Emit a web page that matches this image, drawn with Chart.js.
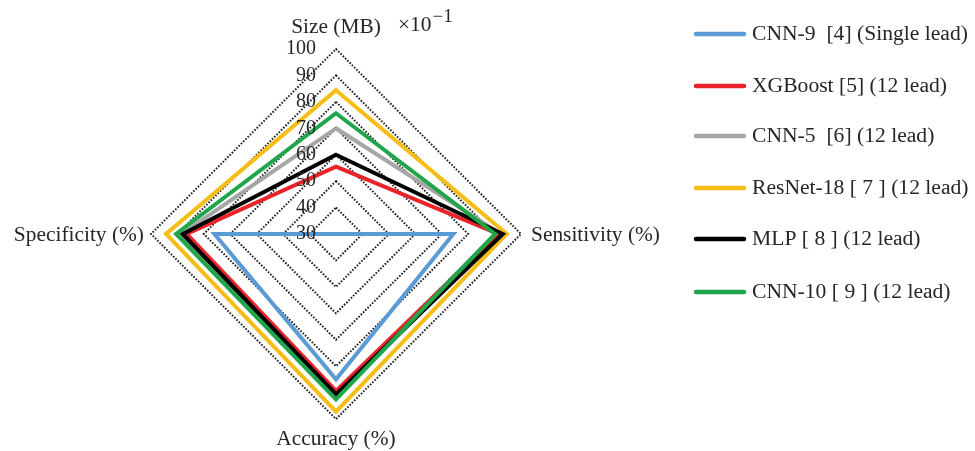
<!DOCTYPE html>
<html>
<head>
<meta charset="utf-8">
<script src="https://cdn.jsdelivr.net/npm/chart.js@4/dist/chart.umd.min.js"></script>
<style>
  html, body { margin: 0; padding: 0; background: #ffffff; }
  #wrap { width: 975px; height: 451px; position: relative; }
</style>
</head>
<body>
<div id="wrap"><canvas id="c" width="975" height="451"></canvas></div>
<script>
// ---- data ----
const categories = ['Size (MB)', 'Sensitivity (%)', 'Accuracy (%)', 'Specificity (%)'];
const seriesNames = [
  'CNN-9  [4] (Single lead)',
  'XGBoost [5] (12 lead)',
  'CNN-5  [6] (12 lead)',
  'ResNet-18 [ 7 ] (12 lead)',
  'MLP [ 8 ] (12 lead)',
  'CNN-10 [ 9 ] (12 lead)'
];
const cnn9     = [30.0, 74.4, 85.0, 76.0];
const xgboost  = [55.5, 91.4, 89.4, 86.5];
const cnn5     = [70.0, 92.4, 91.5, 88.5];
const resnet18 = [84.4, 94.6, 97.2, 94.3];
const mlp      = [60.0, 93.1, 90.7, 88.0];
const cnn10    = [75.7, 90.2, 92.6, 90.5];
const tickLabels = ['30', '40', '50', '60', '70', '80', '90', '100'];
const scaleUnit = '\u00d710';
const scaleExp = '\u22121';

// ---- styles ----
const colors = ['#5b9bd5', '#e8242a', '#a6a6a6', '#f6bd16', '#000000', '#1fa64a'];
const drawOrder = [0, 3, 4, 5, 2, 1];
const seriesValues = [cnn9, xgboost, cnn5, resnet18, mlp, cnn10];
const FONT = "'Liberation Serif', 'Times New Roman', serif";

function wideText(ctx, s, x, y, align, sx) {
  const w = ctx.measureText(s).width * sx;
  let x0 = x;
  if (align === 'center') x0 = x - w / 2;
  else if (align === 'right') x0 = x - w;
  ctx.save();
  ctx.translate(x0, y);
  ctx.scale(sx, 1);
  ctx.textAlign = 'left';
  ctx.fillText(s, 0, 0);
  ctx.restore();
  return w;
}

const textPlugin = {
  id: 'texts',
  afterDraw(chart) {
    const ctx = chart.ctx;
    const r = chart.scales.r;
    ctx.save();
    ctx.fillStyle = '#262626';
    // tick labels
    ctx.font = '20px ' + FONT;
    ctx.textBaseline = 'middle';
    r.ticks.forEach((t, i) => {
      const p = r.getPointPositionForValue(0, t.value);
      wideText(ctx, tickLabels[i], r.xCenter - 20, p.y, 'right', 1.0);
    });
    // axis labels
    const R = r.drawingArea;
    const offs = [21, 10, 21, 7];
    ctx.font = '20px ' + FONT;
    categories.forEach((lab, i) => {
      const p = r.getPointPosition(i, R + offs[i]);
      let al = 'center';
      if (i === 1) al = 'left';
      else if (i === 3) al = 'right';
      wideText(ctx, lab, p.x, p.y + (i === 1 || i === 3 ? 2 : 0), al, 1.07);
    });
    // x10^-1
    const top = r.getPointPosition(0, R + 21);
    ctx.font = '20px ' + FONT;
    const w = wideText(ctx, scaleUnit, top.x + 62, top.y - 2, 'left', 1.07);
    ctx.font = '18px ' + FONT;
    wideText(ctx, scaleExp, top.x + 62 + w + 1, top.y - 11, 'left', 1.07);
    // legend
    ctx.font = '20px ' + FONT;
    const ys = [34, 86, 136, 188, 239, 292];
    chart.data.datasets.forEach((ds, i) => {
      ctx.strokeStyle = ds.borderColor;
      ctx.lineWidth = 4.5;
      ctx.lineCap = 'round';
      ctx.beginPath();
      ctx.moveTo(696, ys[i]);
      ctx.lineTo(744, ys[i]);
      ctx.stroke();
      ctx.fillStyle = '#262626';
      wideText(ctx, ds.label, 752, ys[i] + 1, 'left', 1.08);
    });
    ctx.restore();
  }
};

new Chart(document.getElementById('c'), {
  type: 'radar',
  data: {
    labels: categories,
    datasets: seriesNames.map((n, i) => ({
      label: n,
      data: seriesValues[i],
      borderColor: colors[i],
      backgroundColor: 'rgba(0,0,0,0)',
      borderWidth: 4,
      fill: false,
      pointRadius: 0,
      pointHoverRadius: 0,
      tension: 0,
      order: drawOrder[i],
      borderJoinStyle: 'miter'
    }))
  },
  options: {
    responsive: false,
    animation: false,
    layout: { padding: { left: 151, top: 49, right: 454, bottom: 32 } },
    plugins: { legend: { display: false }, tooltip: { enabled: false } },
    scales: {
      r: {
        min: 30, max: 100,
        ticks: { stepSize: 10, display: false },
        pointLabels: { display: false },
        angleLines: { display: false },
        grid: { color: '#222', lineWidth: 2 },
        border: { dash: [1.6, 1.6] }
      }
    }
  },
  plugins: [textPlugin]
});
</script>
</body>
</html>
